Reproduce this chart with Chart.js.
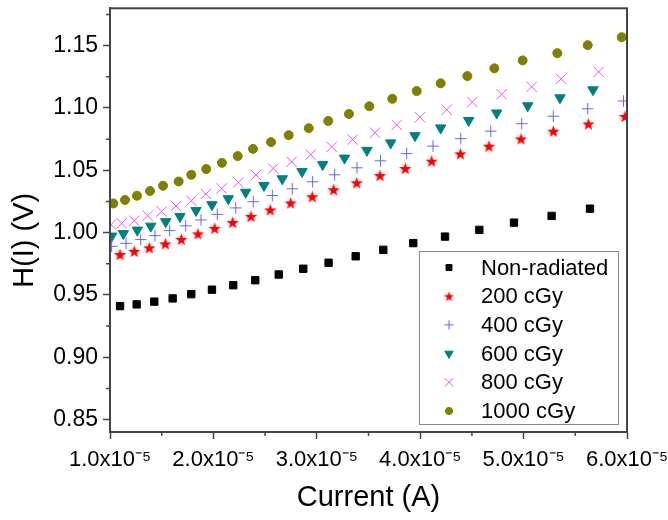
<!DOCTYPE html>
<html>
<head>
<meta charset="utf-8">
<script src="https://cdn.jsdelivr.net/npm/chart.js@4/dist/chart.umd.min.js"></script>
<style>
  html, body { margin: 0; padding: 0; background: #fff; }
  canvas { display: block; }
</style>
</head>
<body>
<canvas id="hChart" width="668" height="520"></canvas>
<script>
// current in units of 1e-5 A, H(I) in volts
const seriesNames = ['Non-radiated', '200 cGy', '400 cGy', '600 cGy', '800 cGy', '1000 cGy'];

const currNon = [1.097, 1.258, 1.428, 1.606, 1.786, 1.986, 2.192, 2.405, 2.632, 2.869, 3.114, 3.376, 3.643, 3.933, 4.240, 4.572, 4.907, 5.271, 5.642];
const voltNon = [0.9410, 0.9424, 0.9446, 0.9472, 0.9506, 0.9542, 0.9578, 0.9618, 0.9664, 0.9710, 0.9758, 0.9810, 0.9862, 0.9916, 0.9968, 1.0022, 1.0080, 1.0134, 1.0192];

const curr200 = [1.097, 1.235, 1.380, 1.535, 1.690, 1.851, 2.013, 2.187, 2.364, 2.550, 2.748, 2.956, 3.163, 3.386, 3.611, 3.856, 4.111, 4.388, 4.665, 4.975, 5.288, 5.627, 5.981];
const volt200 = [0.9824, 0.9850, 0.9878, 0.9910, 0.9946, 0.9990, 1.0034, 1.0082, 1.0130, 1.0182, 1.0238, 1.0288, 1.0344, 1.0400, 1.0458, 1.0514, 1.0574, 1.0632, 1.0694, 1.0752, 1.0814, 1.0872, 1.0932];

const curr400 = [1.016, 1.155, 1.297, 1.435, 1.577, 1.732, 1.880, 2.038, 2.216, 2.386, 2.570, 2.763, 2.960, 3.173, 3.389, 3.616, 3.869, 4.124, 4.392, 4.682, 4.982, 5.287, 5.620, 5.966];
const volt400 = [0.9890, 0.9914, 0.9944, 0.9976, 1.0016, 1.0054, 1.0102, 1.0146, 1.0198, 1.0248, 1.0298, 1.0352, 1.0408, 1.0464, 1.0520, 1.0576, 1.0634, 1.0694, 1.0754, 1.0814, 1.0874, 1.0934, 1.0994, 1.1056];

const curr600 = [1.016, 1.129, 1.264, 1.394, 1.539, 1.677, 1.832, 1.986, 2.144, 2.312, 2.489, 2.666, 2.857, 3.057, 3.268, 3.485, 3.715, 3.950, 4.198, 4.469, 4.740, 5.040, 5.352, 5.671, 6.045];
const volt600 = [0.9972, 0.9992, 1.0020, 1.0052, 1.0088, 1.0130, 1.0178, 1.0224, 1.0272, 1.0324, 1.0378, 1.0432, 1.0490, 1.0546, 1.0598, 1.0660, 1.0720, 1.0778, 1.0840, 1.0900, 1.0960, 1.1018, 1.1082, 1.1146, 1.1226];

const curr800 = [1.010, 1.113, 1.235, 1.365, 1.500, 1.638, 1.786, 1.928, 2.080, 2.241, 2.412, 2.579, 2.757, 2.941, 3.144, 3.347, 3.563, 3.773, 3.998, 4.256, 4.504, 4.788, 5.078, 5.362, 5.726];
const volt800 = [1.0064, 1.0074, 1.0096, 1.0136, 1.0170, 1.0214, 1.0256, 1.0310, 1.0354, 1.0402, 1.0462, 1.0514, 1.0568, 1.0626, 1.0688, 1.0746, 1.0802, 1.0864, 1.0926, 1.0986, 1.1048, 1.1110, 1.1170, 1.1234, 1.1290];

const curr1000 = [1.032, 1.145, 1.261, 1.387, 1.513, 1.664, 1.786, 1.931, 2.083, 2.235, 2.383, 2.557, 2.728, 2.922, 3.111, 3.311, 3.508, 3.730, 3.966, 4.198, 4.456, 4.717, 4.991, 5.326, 5.620, 5.949];
const volt1000 = [1.0234, 1.0262, 1.0296, 1.0334, 1.0376, 1.0410, 1.0464, 1.0510, 1.0560, 1.0614, 1.0672, 1.0726, 1.0782, 1.0838, 1.0896, 1.0952, 1.1014, 1.1074, 1.1136, 1.1198, 1.1256, 1.1318, 1.1382, 1.1440, 1.1504, 1.1568];

const xTicks = [1, 2, 3, 4, 5, 6];
const xMinor = [1.5, 2.5, 3.5, 4.5, 5.5];
const yTicks = [0.85, 0.90, 0.95, 1.00, 1.05, 1.10, 1.15];
const yMinor = [0.875, 0.925, 0.975, 1.025, 1.075, 1.125, 1.175];

const FONT = "'Liberation Sans', Arial, Helvetica, sans-serif";
Chart.defaults.font.family = FONT;
Chart.defaults.color = '#000';

// filled five-point star used as a point style
function starImage(color, outer, inner) {
  const size = Math.ceil(outer * 2 + 2);
  const c = document.createElement('canvas');
  c.width = size; c.height = size;
  const g = c.getContext('2d');
  g.fillStyle = color;
  g.beginPath();
  for (let i = 0; i < 10; i++) {
    const r = i % 2 ? inner : outer;
    const a = -Math.PI / 2 + i * Math.PI / 5;
    g.lineTo(size / 2 + r * Math.cos(a), size / 2 + 0.6 + r * Math.sin(a));
  }
  g.closePath();
  g.fill();
  return c;
}

const markStyles = [
  { style: 'rect', radius: 5.2, color: '#000000', fill: '#000000', bw: 1 },
  { style: starImage('#ff0000', 6.5, 2.7), legendStyle: starImage('#ff0000', 5.3, 2.2), radius: 6, color: '#ff0000', fill: '#ff0000', bw: 0 },
  { style: 'cross', radius: 5.8, color: '#6464ff', fill: '#6464ff', bw: 1 },
  { style: 'triangle', rotation: 180, radius: 6, color: '#008080', fill: '#008080', bw: 1 },
  { style: 'crossRot', radius: 7.3, color: '#f050f0', fill: '#f050f0', bw: 1 },
  { style: 'circle', radius: 4.5, color: '#808000', fill: '#808000', bw: 1 }
];

const currents = [currNon, curr200, curr400, curr600, curr800, curr1000];
const volts = [voltNon, volt200, volt400, volt600, volt800, volt1000];

const datasets = seriesNames.map((name, k) => {
  const st = markStyles[k];
  return {
    label: name,
    data: currents[k].map((x, i) => ({ x: x, y: volts[k][i] })),
    pointStyle: st.style,
    pointRadius: st.radius,
    pointRotation: st.rotation || 0,
    pointBackgroundColor: st.fill,
    pointBorderColor: st.color,
    pointBorderWidth: st.bw,
    showLine: false,
    clip: 0
  };
});

const frameAndLegend = {
  id: 'frameAndLegend',
  afterDatasetsDraw(chart) {
    const { ctx, chartArea: a, scales } = chart;
    ctx.save();
    // box around the plot
    ctx.strokeStyle = '#444';
    ctx.lineWidth = 2;
    ctx.strokeRect(a.left, a.top, a.right - a.left, a.bottom - a.top);
    // minor ticks
    ctx.lineWidth = 1.5;
    ctx.beginPath();
    xMinor.forEach(v => {
      const px = scales.x.getPixelForValue(v);
      ctx.moveTo(px, a.bottom); ctx.lineTo(px, a.bottom + 4);
    });
    yMinor.forEach(v => {
      const py = scales.y.getPixelForValue(v);
      ctx.moveTo(a.left, py); ctx.lineTo(a.left - 4, py);
    });
    ctx.stroke();

    // legend
    const w = 199, h = 173;
    const right = a.right - 9, bottom = a.bottom - 8;
    const left = right - w, top = bottom - h;
    ctx.fillStyle = '#fff';
    ctx.fillRect(left, top, w, h);
    ctx.strokeStyle = '#8a8a8a';
    ctx.lineWidth = 1;
    ctx.strokeRect(left + 0.5, top + 0.5, w, h);
    ctx.font = '22px ' + FONT;
    ctx.textBaseline = 'middle';
    ctx.textAlign = 'left';
    chart.data.datasets.forEach((ds, i) => {
      const st = markStyles[i];
      const y = top + 16.5 + i * 28.7;
      ctx.fillStyle = st.fill;
      ctx.strokeStyle = st.color;
      ctx.lineWidth = st.bw;
      Chart.helpers.drawPoint(ctx, {
        pointStyle: st.legendStyle || st.style,
        radius: st.radius * 0.8,
        rotation: st.rotation || 0,
        borderWidth: st.bw
      }, left + 30, y);
      ctx.fillStyle = '#000';
      ctx.fillText(ds.label, left + 62, y + 1);
    });
    ctx.restore();
  }
};

new Chart(document.getElementById('hChart'), {
  type: 'scatter',
  data: { datasets: datasets },
  options: {
    responsive: false,
    animation: false,
    devicePixelRatio: 1,
    layout: { padding: { top: 7, right: 41, left: 0, bottom: 0 } },
    plugins: { legend: { display: false }, tooltip: { enabled: false } },
    scales: {
      x: {
        type: 'linear',
        min: 1,
        max: 6,
        afterBuildTicks: s => { s.ticks = xTicks.map(v => ({ value: v })); },
        afterFit: s => { s.height = 88; s.paddingLeft = 0; s.paddingRight = 0; },
        ticks: {
          callback: v => v.toFixed(1) + 'x10\u207B\u2075',
          font: { size: 22 },
          color: '#000',
          padding: 8,
          maxRotation: 0,
          autoSkip: false
        },
        grid: { drawOnChartArea: false, tickLength: 7, tickColor: '#444', tickWidth: 1.5 },
        border: { color: '#444', width: 2 },
        title: { display: true, text: 'Current (A)', font: { size: 29 }, color: '#000', padding: { top: 0, bottom: 5 } }
      },
      y: {
        type: 'linear',
        min: 0.84,
        max: 1.18,
        afterBuildTicks: s => { s.ticks = yTicks.map(v => ({ value: v })); },
        afterFit: s => { s.width = 110; s.paddingTop = 0; s.paddingBottom = 0; },
        ticks: {
          callback: v => v.toFixed(2),
          font: { size: 23 },
          color: '#000',
          padding: 5,
          autoSkip: false
        },
        grid: { drawOnChartArea: false, tickLength: 7, tickColor: '#444', tickWidth: 1.5 },
        border: { color: '#444', width: 2 },
        title: { display: true, text: 'H(I) (V)     ', font: { size: 29 }, color: '#000', padding: { top: 8, bottom: 0 } }
      }
    }
  },
  plugins: [frameAndLegend]
});
</script>
</body>
</html>
